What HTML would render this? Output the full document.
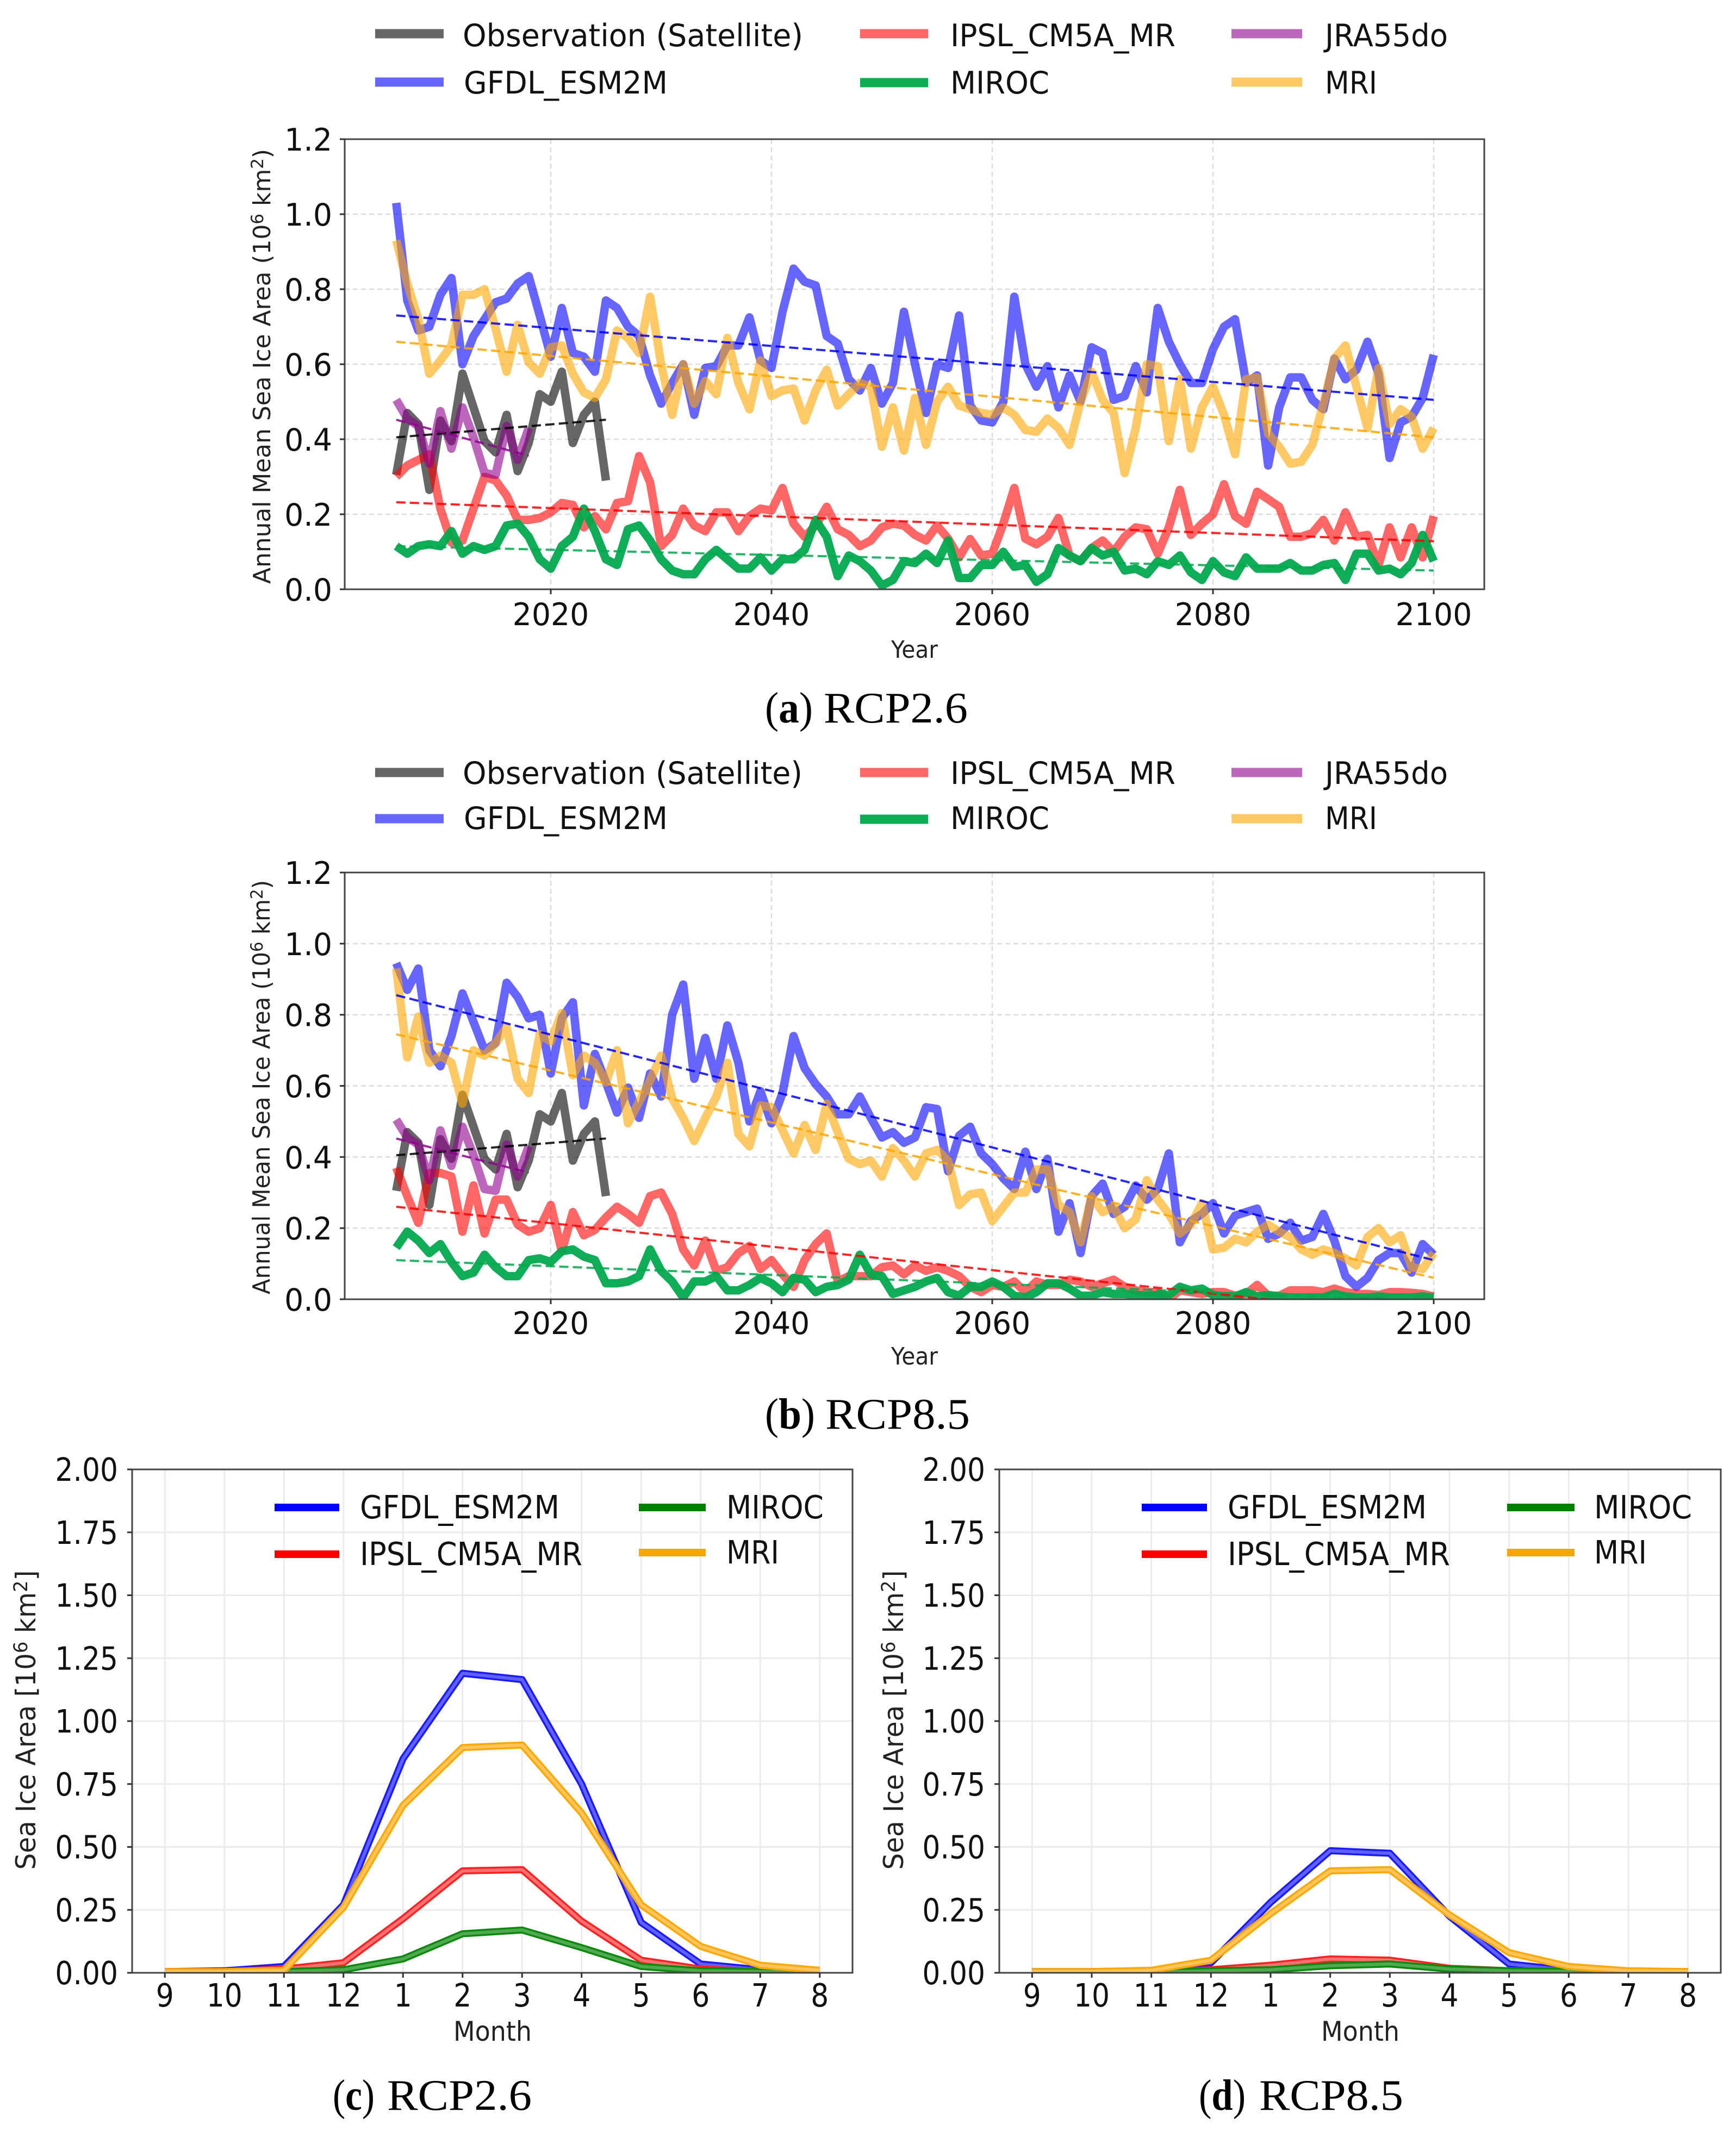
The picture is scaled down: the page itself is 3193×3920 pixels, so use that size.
<!DOCTYPE html>
<html lang="en">
<head>
<meta charset="utf-8">
<title>Annual and monthly sea ice area projections</title>
<style>
html,body{margin:0;padding:0;background:#fff}
svg{display:block}
text{font-family:"DejaVu Sans","Liberation Sans",sans-serif;fill:#111}
.cap{font-family:"Liberation Serif",serif;font-size:81px;fill:#000}
.leg{font-size:57px}
.legm{font-size:59px}
.axt{font-size:44px;fill:#222}
.axm{font-size:50px;fill:#222}
</style>
</head>
<body>
<svg id="figure" xmlns="http://www.w3.org/2000/svg" width="3193" height="3920" viewBox="0 0 3193 3920">
<rect width="3193" height="3920" fill="#fff"/>
<g id="panel-a"></g>
<g id="panel-b"></g>
<g id="panel-c"></g>
<g id="panel-d"></g>

<g>
<line x1="690" x2="816" y1="62" y2="62" stroke="#000" stroke-opacity=".6" stroke-width="17"/>
<line x1="690" x2="816" y1="151" y2="151" stroke="#00f" stroke-opacity=".6" stroke-width="17"/>
<line x1="1582" x2="1707" y1="62" y2="62" stroke="#f00" stroke-opacity=".6" stroke-width="17"/>
<line x1="1582" x2="1707" y1="152" y2="152" stroke="#0fab55" stroke-width="17"/>
<line x1="2265" x2="2395" y1="62" y2="62" stroke="#900090" stroke-opacity=".6" stroke-width="17"/>
<line x1="2265" x2="2395" y1="151" y2="151" stroke="#ffa500" stroke-opacity=".6" stroke-width="17"/>
<text class="leg" x="851" y="85" textLength="626" lengthAdjust="spacingAndGlyphs">Observation (Satellite)</text>
<text class="leg" x="853" y="172" textLength="375" lengthAdjust="spacingAndGlyphs">GFDL_ESM2M</text>
<text class="leg" x="1748" y="85" textLength="414" lengthAdjust="spacingAndGlyphs">IPSL_CM5A_MR</text>
<text class="leg" x="1748" y="172" textLength="182" lengthAdjust="spacingAndGlyphs">MIROC</text>
<text class="leg" x="2437" y="85" textLength="226" lengthAdjust="spacingAndGlyphs">JRA55do</text>
<text class="leg" x="2437" y="172" textLength="96" lengthAdjust="spacingAndGlyphs">MRI</text>
</g>

<g>
<line x1="690" x2="816" y1="1421" y2="1421" stroke="#000" stroke-opacity=".6" stroke-width="17"/>
<line x1="690" x2="816" y1="1506" y2="1506" stroke="#00f" stroke-opacity=".6" stroke-width="17"/>
<line x1="1582" x2="1707" y1="1421" y2="1421" stroke="#f00" stroke-opacity=".6" stroke-width="17"/>
<line x1="1582" x2="1707" y1="1507" y2="1507" stroke="#0fab55" stroke-width="17"/>
<line x1="2265" x2="2395" y1="1421" y2="1421" stroke="#900090" stroke-opacity=".6" stroke-width="17"/>
<line x1="2265" x2="2395" y1="1506" y2="1506" stroke="#ffa500" stroke-opacity=".6" stroke-width="17"/>
<text class="leg" x="851" y="1442" textLength="625" lengthAdjust="spacingAndGlyphs">Observation (Satellite)</text>
<text class="leg" x="853" y="1525" textLength="375" lengthAdjust="spacingAndGlyphs">GFDL_ESM2M</text>
<text class="leg" x="1748" y="1442" textLength="414" lengthAdjust="spacingAndGlyphs">IPSL_CM5A_MR</text>
<text class="leg" x="1748" y="1525" textLength="182" lengthAdjust="spacingAndGlyphs">MIROC</text>
<text class="leg" x="2437" y="1442" textLength="226" lengthAdjust="spacingAndGlyphs">JRA55do</text>
<text class="leg" x="2437" y="1525" textLength="96" lengthAdjust="spacingAndGlyphs">MRI</text>
</g>

<g>
<line x1="505" x2="624" y1="2773" y2="2773" stroke="#00f" stroke-width="14"/>
<line x1="505" x2="624" y1="2859" y2="2859" stroke="#f00" stroke-width="14"/>
<line x1="1175" x2="1298" y1="2773" y2="2773" stroke="#008000" stroke-width="14"/>
<line x1="1175" x2="1298" y1="2856" y2="2856" stroke="#ffa500" stroke-width="14"/>
<text class="legm" x="662" y="2793" textLength="367" lengthAdjust="spacingAndGlyphs">GFDL_ESM2M</text>
<text class="legm" x="662" y="2879" textLength="409" lengthAdjust="spacingAndGlyphs">IPSL_CM5A_MR</text>
<text class="legm" x="1336" y="2793" textLength="179" lengthAdjust="spacingAndGlyphs">MIROC</text>
<text class="legm" x="1336" y="2876" textLength="97" lengthAdjust="spacingAndGlyphs">MRI</text>
</g>

<g>
<line x1="2100" x2="2220" y1="2773" y2="2773" stroke="#00f" stroke-width="14"/>
<line x1="2100" x2="2220" y1="2859" y2="2859" stroke="#f00" stroke-width="14"/>
<line x1="2772" x2="2896" y1="2773" y2="2773" stroke="#008000" stroke-width="14"/>
<line x1="2772" x2="2896" y1="2856" y2="2856" stroke="#ffa500" stroke-width="14"/>
<text class="legm" x="2258" y="2793" textLength="366" lengthAdjust="spacingAndGlyphs">GFDL_ESM2M</text>
<text class="legm" x="2258" y="2879" textLength="409" lengthAdjust="spacingAndGlyphs">IPSL_CM5A_MR</text>
<text class="legm" x="2932" y="2793" textLength="180" lengthAdjust="spacingAndGlyphs">MIROC</text>
<text class="legm" x="2932" y="2876" textLength="97" lengthAdjust="spacingAndGlyphs">MRI</text>
</g>

<text class="axt" transform="translate(497,674) rotate(-90)" text-anchor="middle" textLength="800" lengthAdjust="spacingAndGlyphs">Annual Mean Sea Ice Area (10<tspan dy="-13" font-size="31">6</tspan><tspan dy="13"> km</tspan><tspan dy="-13" font-size="31">2</tspan><tspan dy="13">)</tspan></text>
<text class="axt" transform="translate(496,2000) rotate(-90)" text-anchor="middle" textLength="762" lengthAdjust="spacingAndGlyphs">Annual Mean Sea Ice Area (10<tspan dy="-13" font-size="31">6</tspan><tspan dy="13"> km</tspan><tspan dy="-13" font-size="31">2</tspan><tspan dy="13">)</tspan></text>
<text class="axt" x="1639" y="1210" textLength="86" lengthAdjust="spacingAndGlyphs">Year</text>
<text class="axt" x="1639" y="2510" textLength="86" lengthAdjust="spacingAndGlyphs">Year</text>

<text class="axm" transform="translate(65,3164) rotate(-90)" text-anchor="middle" textLength="551" lengthAdjust="spacingAndGlyphs">Sea Ice Area [10<tspan dy="-15" font-size="35">6</tspan><tspan dy="15"> km</tspan><tspan dy="-15" font-size="35">2</tspan><tspan dy="15">]</tspan></text>
<text class="axm" transform="translate(1661,3164) rotate(-90)" text-anchor="middle" textLength="551" lengthAdjust="spacingAndGlyphs">Sea Ice Area [10<tspan dy="-15" font-size="35">6</tspan><tspan dy="15"> km</tspan><tspan dy="-15" font-size="35">2</tspan><tspan dy="15">]</tspan></text>
<text class="axm" x="834" y="3754" textLength="144" lengthAdjust="spacingAndGlyphs">Month</text>
<text class="axm" x="2430" y="3754" textLength="144" lengthAdjust="spacingAndGlyphs">Month</text>

<text class="cap" x="1407" y="1329" textLength="88" lengthAdjust="spacingAndGlyphs">(<tspan font-weight="bold">a</tspan>)</text>
<text class="cap" x="1515" y="1329" textLength="265" lengthAdjust="spacingAndGlyphs">RCP2.6</text>
<text class="cap" x="1407" y="2628" textLength="92" lengthAdjust="spacingAndGlyphs">(<tspan font-weight="bold">b</tspan>)</text>
<text class="cap" x="1518" y="2628" textLength="266" lengthAdjust="spacingAndGlyphs">RCP8.5</text>
<text class="cap" x="612" y="3881" textLength="77" lengthAdjust="spacingAndGlyphs">(<tspan font-weight="bold">c</tspan>)</text>
<text class="cap" x="712" y="3881" textLength="266" lengthAdjust="spacingAndGlyphs">RCP2.6</text>
<text class="cap" x="2205" y="3881" textLength="86" lengthAdjust="spacingAndGlyphs">(<tspan font-weight="bold">d</tspan>)</text>
<text class="cap" x="2316" y="3881" textLength="265" lengthAdjust="spacingAndGlyphs">RCP8.5</text>
</svg>

<script>
// ---------- data ----------
const observation = [.305,.47,.44,.265,.45,.395,.575,.485,.395,.365,.465,.315,.39,.52,.50,.58,.39,.465,.50,.29];
const jra55do = [.505,.455,.435,.335,.475,.375,.485,.405,.31,.305,.435,.345,.43];

const gfdlRcp26 = [1.03,.77,.69,.70,.785,.83,.60,.675,.72,.765,
.775,.815,.835,.73,.62,.75,.63,.62,.58,.77,
.75,.70,.675,.57,.495,.55,.60,.465,.59,.595,
.65,.65,.725,.61,.59,.74,.855,.82,.81,.675,
.655,.56,.53,.59,.495,.55,.74,.60,.47,.60,
.59,.73,.49,.45,.445,.50,.78,.60,.54,.595,
.485,.57,.50,.645,.63,.505,.515,.595,.525,.75,
.66,.60,.55,.55,.64,.70,.72,.55,.57,.33,
.485,.565,.565,.505,.48,.615,.56,.585,.66,.575,
.35,.445,.46,.51,.625];
const mriRcp26 = [.93,.815,.72,.575,.61,.65,.785,.785,.80,.695,
.58,.705,.605,.575,.645,.65,.575,.525,.51,.56,
.69,.67,.63,.78,.60,.465,.60,.495,.555,.52,
.67,.55,.48,.61,.515,.53,.535,.45,.53,.585,
.49,.52,.55,.54,.38,.485,.37,.51,.385,.50,
.54,.49,.48,.47,.465,.485,.465,.425,.42,.455,
.43,.385,.50,.58,.505,.47,.31,.43,.60,.595,
.395,.56,.375,.485,.54,.465,.36,.56,.565,.415,
.38,.335,.34,.385,.495,.615,.65,.54,.43,.59,
.44,.48,.46,.375,.43];
const ipslRcp26 = [.30,.33,.345,.36,.215,.125,.13,.215,.30,.29,
.25,.185,.185,.19,.205,.23,.225,.165,.195,.16,
.23,.235,.355,.285,.115,.145,.215,.17,.155,.205,
.205,.155,.195,.215,.21,.27,.175,.14,.17,.22,
.16,.145,.115,.13,.165,.175,.17,.145,.13,.17,
.135,.085,.134,.09,.095,.175,.27,.135,.12,.14,
.19,.09,.075,.11,.13,.10,.14,.165,.16,.095,
.165,.265,.145,.175,.20,.28,.195,.175,.26,.24,
.22,.14,.14,.15,.185,.13,.205,.14,.145,.065,
.165,.085,.165,.085,.195];
const mirocRcp26 = [.115,.095,.115,.12,.115,.155,.095,.115,.105,.115,
.17,.175,.14,.08,.055,.115,.14,.215,.155,.08,
.065,.16,.17,.13,.08,.05,.04,.04,.08,.105,
.08,.055,.055,.085,.05,.08,.08,.105,.185,.14,
.035,.09,.075,.05,.01,.025,.075,.07,.095,.07,
.13,.03,.03,.065,.065,.10,.06,.065,.02,.04,
.11,.09,.075,.11,.09,.10,.05,.055,.04,.075,
.065,.09,.045,.025,.075,.045,.035,.085,.055,.055,
.055,.07,.05,.05,.065,.07,.025,.095,.095,.05,
.055,.04,.07,.145,.075];

const gfdlRcp85 = [.945,.87,.93,.70,.655,.74,.86,.78,.70,.72,
.89,.85,.79,.80,.635,.79,.835,.545,.69,.61,
.525,.595,.51,.635,.57,.80,.885,.62,.735,.62,
.77,.665,.50,.585,.495,.58,.74,.65,.605,.57,
.52,.52,.57,.51,.455,.47,.44,.455,.54,.535,
.36,.46,.485,.41,.38,.34,.31,.415,.31,.395,
.19,.27,.13,.29,.325,.24,.26,.32,.28,.31,
.41,.16,.22,.24,.27,.185,.235,.245,.255,.17,
.185,.215,.165,.175,.24,.165,.065,.035,.06,.11,
.13,.13,.075,.155,.125];
const mriRcp85 = [.93,.68,.795,.665,.685,.665,.55,.70,.685,.72,
.765,.62,.58,.745,.725,.805,.63,.685,.665,.61,
.70,.495,.555,.615,.685,.565,.51,.445,.51,.57,
.665,.465,.43,.545,.54,.475,.41,.49,.42,.55,
.47,.395,.38,.39,.345,.425,.39,.345,.41,.42,
.39,.265,.295,.30,.22,.26,.30,.30,.365,.365,
.265,.245,.16,.29,.245,.26,.20,.225,.335,.28,
.24,.185,.21,.27,.14,.145,.17,.16,.19,.21,
.19,.175,.14,.125,.14,.13,.115,.095,.175,.20,
.16,.18,.09,.085,.13];
const ipslRcp85 = [.37,.29,.215,.355,.355,.345,.19,.32,.185,.28,
.28,.21,.19,.20,.265,.135,.245,.18,.195,.23,
.26,.24,.215,.29,.30,.24,.14,.095,.165,.08,
.09,.13,.15,.085,.11,.07,.035,.11,.155,.185,
.05,.065,.065,.065,.09,.095,.07,.095,.08,.09,
.08,.065,.035,.02,.04,.035,.05,.02,.05,.04,
.04,.055,.05,.035,.045,.055,.035,.025,.02,.02,
.0,.025,.02,.015,.02,.02,.01,.015,.04,.01,
.01,.025,.025,.025,.02,.03,.02,.015,.015,.012,
.02,.02,.018,.015,.008];
const mirocRcp85 = [.145,.19,.165,.13,.155,.105,.065,.075,.125,.09,
.065,.065,.11,.115,.105,.135,.14,.12,.11,.045,
.045,.05,.065,.14,.08,.05,.005,.05,.05,.065,
.025,.025,.04,.06,.045,.02,.06,.055,.02,.035,
.04,.055,.125,.07,.065,.015,.025,.035,.05,.06,
.02,.01,.035,.035,.05,.035,.01,.005,.02,.045,
.045,.03,.01,.01,.02,.015,.015,.012,.01,.012,
.012,.035,.025,.03,.012,.008,.008,.02,.008,.012,
.008,.005,.005,.005,.005,.015,.008,.005,.005,.008,
.005,.005,.005,.008,.005];

// trend values at the first and last year of each series
const observationTrend = [.405,.452];
const jraTrend = [.452,.356];
const gfdlTrendRcp26 = [.73,.505];
const mriTrendRcp26 = [.66,.405];
const ipslTrendRcp26 = [.232,.128];
const mirocTrendRcp26 = [.115,.05];
const gfdlTrendRcp85 = [.855,.11];
const mriTrendRcp85 = [.745,.06];
const ipslTrendRcp85 = [.26,-.05];
const mirocTrendRcp85 = [.11,-.005];

const yearTicks = [2020,2040,2060,2080,2100];
const annualTickValues = [0,.2,.4,.6,.8,1,1.2];
const annualTickLabels = ['0.0','0.2','0.4','0.6','0.8','1.0','1.2'];

const monthLabels = ['9','10','11','12','1','2','3','4','5','6','7','8'];
const monthlyTickValues = [0,.25,.5,.75,1,1.25,1.5,1.75,2];
const monthlyTickLabels = ['0.00','0.25','0.50','0.75','1.00','1.25','1.50','1.75','2.00'];

const gfdlMonthlyRcp26 = [.005,.008,.025,.27,.85,1.19,1.165,.75,.20,.035,.012,.005];
const mriMonthlyRcp26 = [.005,.005,.01,.26,.665,.895,.905,.635,.27,.105,.03,.01];
const ipslMonthlyRcp26 = [.005,.005,.015,.04,.215,.405,.41,.205,.05,.015,.005,.002];
const mirocMonthlyRcp26 = [.002,.002,.005,.012,.055,.155,.17,.10,.025,.008,.005,.002];
const gfdlMonthlyRcp85 = [.005,.005,.008,.04,.28,.485,.475,.225,.035,.01,.005,.005];
const mriMonthlyRcp85 = [.005,.005,.01,.05,.235,.405,.41,.23,.08,.025,.008,.005];
const ipslMonthlyRcp85 = [.002,.002,.003,.012,.03,.055,.05,.018,.008,.005,.003,.002];
const mirocMonthlyRcp85 = [.001,.001,.002,.008,.012,.028,.035,.015,.008,.006,.003,.001];

// ---------- drawing helpers ----------
const NS = 'http://www.w3.org/2000/svg';
function make(tag, parent, attrs){
  const el = document.createElementNS(NS, tag);
  for(const k in attrs){ el.setAttribute(k, attrs[k]); }
  parent.appendChild(el);
  return el;
}
function linear(d0,d1,r0,r1){ return v => r0 + (v-d0)*(r1-r0)/(d1-d0); }
function pathOf(values, x, y, start){
  return values.map((v,i)=>(i?'L':'M')+x(start+i).toFixed(1)+' '+y(v).toFixed(1)).join('');
}
function drawFrame(g, box){
  const f = make('rect', g, {x:box.l,y:box.t,width:box.r-box.l,height:box.b-box.t,fill:'none',stroke:'#444',"stroke-width":3});
  
  
}
function drawYTicks(g, box, y, values, labels, labelRight, fontSize, sx){
  values.forEach((v,i)=>{
    const tick = make('line', g, {x1:box.l-9,x2:box.l,y1:y(v),y2:y(v),stroke:'#333',"stroke-width":3});
    
    
    const t = make('text', g, {transform:`translate(${labelRight},${y(v)+21}) scale(${sx},1)`,"text-anchor":'end',"font-size":fontSize});
    t.textContent = labels[i];
    
    
  });
}
function drawXTicks(g, box, x, values, labels, baseOffset, fontSize, sx){
  values.forEach((v,i)=>{
    const tick = make('line', g, {x1:x(v),x2:x(v),y1:box.b,y2:box.b+9,stroke:'#333',"stroke-width":3});
    
    
    const t = make('text', g, {transform:`translate(${x(v)},${box.b+baseOffset}) scale(${sx},1)`,"text-anchor":'middle',"font-size":fontSize});
    t.textContent = labels[i];
    
    
  });
}
function drawGrid(g, box, x, y, xs, ys, style){
  xs.forEach(v=>{
    const l = make('line', g, Object.assign({x1:x(v),x2:x(v),y1:box.t,y2:box.b}, style));
    
    
  });
  ys.forEach(v=>{
    const l = make('line', g, Object.assign({x1:box.l,x2:box.r,y1:y(v),y2:y(v)}, style));
    
    
  });
}

function drawAnnual(id, box, models, baseOffset){
  const g = document.getElementById(id);
  const x = linear(2001.33, 2104.58, box.l, box.r);
  const y = linear(0, 1.2, box.b, box.t);
  const clipId = id + '-clip';
  const clip = make('clipPath', g, {id:clipId});
  make('rect', clip, {x:box.l,y:box.t,width:box.r-box.l,height:box.b-box.t});
  drawGrid(g, box, x, y, yearTicks, annualTickValues.slice(1,6),
    {stroke:'#dcdcdc',"stroke-width":2.5,"stroke-dasharray":'9 6'});
  const plot = make('g', g, {"clip-path":`url(#${clipId})`});
  models.forEach(m=>{
    const p = make('path', plot, {d:pathOf(m.values,x,y,m.start),fill:'none',stroke:m.color,"stroke-opacity":m.alpha,"stroke-width":15.5,"stroke-linejoin":'round'});
    
    
  });
  models.forEach(m=>{
    const last = m.start + m.values.length - 1;
    const t = make('line', plot, {x1:x(m.start),x2:x(last),y1:y(m.trend[0]),y2:y(m.trend[1]),stroke:m.color,"stroke-opacity":.85,"stroke-width":4,"stroke-dasharray":'17 8'});
    
    
  });
  drawFrame(g, box);
  drawYTicks(g, box, y, annualTickValues, annualTickLabels, 611, 57, .97);
  drawXTicks(g, box, x, yearTicks, yearTicks.map(String), baseOffset, 57, .97);
}

function drawMonthly(id, box, models){
  const g = document.getElementById(id);
  const x = linear(-.55, 11.55, box.l, box.r);
  const y = linear(0, 2, box.b, box.t);
  const clipId = id + '-clip';
  const clip = make('clipPath', g, {id:clipId});
  make('rect', clip, {x:box.l,y:box.t,width:box.r-box.l,height:box.b-box.t});
  drawGrid(g, box, x, y, monthLabels.map((m,i)=>i), monthlyTickValues.slice(1,8),
    {stroke:'#ebebeb',"stroke-width":3});
  const plot = make('g', g, {"clip-path":`url(#${clipId})`});
  models.forEach(m=>{
    const d = pathOf(m.values,x,y,0);
    const outer = make('path', plot, {d:d,fill:'none',stroke:m.color,"stroke-width":13,"stroke-linejoin":'round'});
    
    
    const inner = make('path', plot, {d:d,fill:'none',stroke:m.light,"stroke-width":6,"stroke-linejoin":'round'});
    
    
  });
  drawFrame(g, box);
  drawYTicks(g, box, y, monthlyTickValues, monthlyTickLabels, box.l-26, 59, .88);
  drawXTicks(g, box, x, monthLabels.map((m,i)=>i), monthLabels, 62, 59, .88);
}

const GREY = {name:'observation',color:'#000',alpha:.6};
const BLUE = {name:'gfdl',color:'#00f',alpha:.6};
const RED = {name:'ipsl',color:'#f00',alpha:.6};
const GREEN = {name:'miroc',color:'#00a84c',alpha:.94};
const PURPLE = {name:'jra',color:'#900090',alpha:.6};
const ORANGE = {name:'mri',color:'#ffa500',alpha:.6};

drawAnnual('panel-a', {l:634,r:2730,t:256,b:1084}, [
  Object.assign({},GREY,{values:observation,start:2006,trend:observationTrend}),
  Object.assign({},BLUE,{values:gfdlRcp26,start:2006,trend:gfdlTrendRcp26}),
  Object.assign({},RED,{values:ipslRcp26,start:2006,trend:ipslTrendRcp26}),
  Object.assign({},GREEN,{values:mirocRcp26,start:2006,trend:mirocTrendRcp26}),
  Object.assign({},PURPLE,{values:jra55do,start:2006,trend:jraTrend}),
  Object.assign({},ORANGE,{values:mriRcp26,start:2006,trend:mriTrendRcp26})
], 66);

drawAnnual('panel-b', {l:634,r:2730,t:1605,b:2390}, [
  Object.assign({},GREY,{values:observation,start:2006,trend:observationTrend}),
  Object.assign({},BLUE,{values:gfdlRcp85,start:2006,trend:gfdlTrendRcp85}),
  Object.assign({},RED,{values:ipslRcp85,start:2006,trend:ipslTrendRcp85}),
  Object.assign({},GREEN,{values:mirocRcp85,start:2006,trend:mirocTrendRcp85}),
  Object.assign({},PURPLE,{values:jra55do,start:2006,trend:jraTrend}),
  Object.assign({},ORANGE,{values:mriRcp85,start:2006,trend:mriTrendRcp85})
], 64);

drawMonthly('panel-c', {l:243,r:1568,t:2703,b:3629}, [
  {name:'gfdl',color:'#1a1aff',light:'#6060ff',values:gfdlMonthlyRcp26},
  {name:'ipsl',color:'#ff2020',light:'#ff7070',values:ipslMonthlyRcp26},
  {name:'miroc',color:'#0a8a0a',light:'#50a850',values:mirocMonthlyRcp26},
  {name:'mri',color:'#ffa800',light:'#ffc45c',values:mriMonthlyRcp26}
]);

drawMonthly('panel-d', {l:1838,r:3165,t:2703,b:3629}, [
  {name:'gfdl',color:'#1a1aff',light:'#6060ff',values:gfdlMonthlyRcp85},
  {name:'ipsl',color:'#ff2020',light:'#ff7070',values:ipslMonthlyRcp85},
  {name:'miroc',color:'#0a8a0a',light:'#50a850',values:mirocMonthlyRcp85},
  {name:'mri',color:'#ffa800',light:'#ffc45c',values:mriMonthlyRcp85}
]);
</script>
</body>
</html>
